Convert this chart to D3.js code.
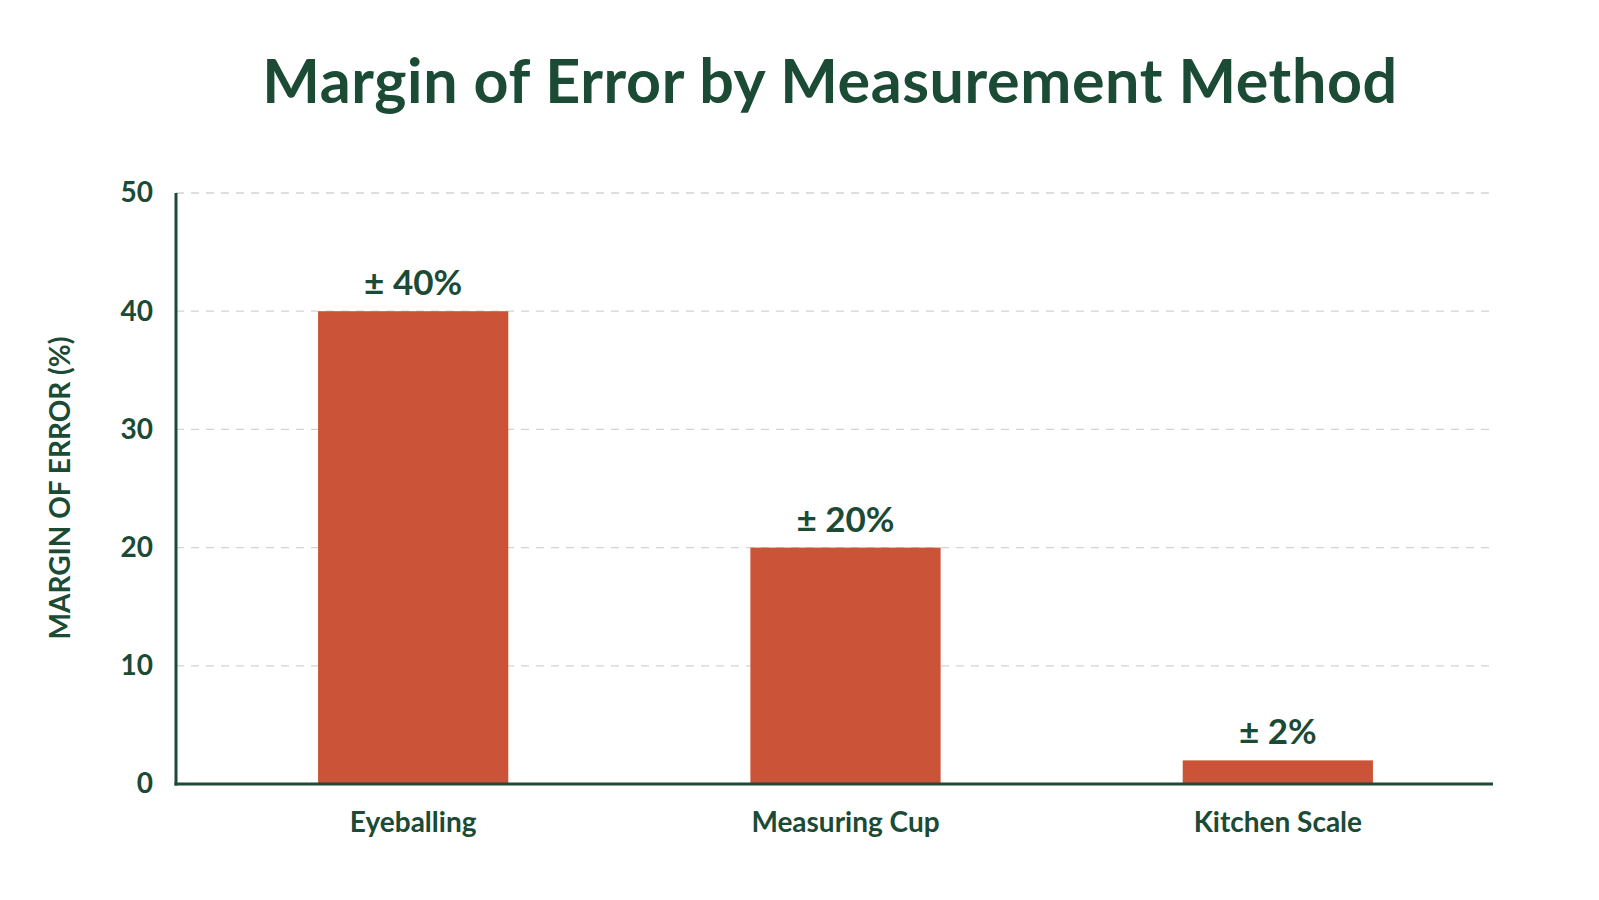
<!DOCTYPE html>
<html>
<head>
<meta charset="utf-8">
<script src="https://cdn.jsdelivr.net/npm/d3@7"></script>
<style>
  body { margin: 0; background: #fff; }
  text { font-family: Lato, "Open Sans", sans-serif; }
</style>
</head>
<body>
<div class="chart"></div>
<script>
var methods = ["Eyeballing", "Measuring Cup", "Kitchen Scale"];
var errorPct = [40, 20, 2];
var valueLabels = ["± 40%", "± 20%", "± 2%"];
var yTicks = [0, 10, 20, 30, 40, 50];

var green = "#1b4a35";

var svg = d3.select(".chart")
  .append("svg")
  .attr("width", 1599)
  .attr("height", 900)
  .style("background-color", "#fff");

// title
svg.append("text")
  .attr("x", 830)
  .attr("y", 103)
  .attr("text-anchor", "middle")
  .style("font-size", "61px")
  .style("font-weight", "bold")
  .style("letter-spacing", "0.6px")
  .style("fill", green)
  .text("Margin of Error by Measurement Method");

var x = d3.scaleBand()
  .domain(methods)
  .range([197, 1494])
  .paddingInner(0.56)
  .paddingOuter(0.28);

var y = d3.scaleLinear()
  .domain([0, 50])
  .range([784, 193]);

// dashed grid
svg.selectAll(".grid")
  .data(yTicks.filter(function (d) { return d > 0; }))
  .enter()
  .append("line")
  .attr("class", "grid")
  .attr("x1", 176)
  .attr("x2", 1492)
  .attr("y1", function (d) { return y(d); })
  .attr("y2", function (d) { return y(d); })
  .style("stroke", "#d4d4d4")
  .style("stroke-width", 1.3)
  .style("stroke-dasharray", "8,7");

// y axis
var yAxis = svg.append("g")
  .attr("transform", "translate(176,0)")
  .call(d3.axisLeft(y).tickValues(yTicks).tickSize(0).tickPadding(23));
yAxis.select(".domain").remove();
yAxis.selectAll("text")
  .style("font-family", "Lato, sans-serif")
  .style("font-size", "28px")
  .style("font-weight", "bold")
  .style("fill", green);

// bars
svg.selectAll(".bar")
  .data(errorPct)
  .enter()
  .append("rect")
  .attr("class", "bar")
  .attr("x", function (d, i) { return x(methods[i]); })
  .attr("width", x.bandwidth())
  .attr("y", function (d) { return y(d); })
  .attr("height", function (d) { return y(0) - y(d); })
  .style("fill", "#cb5438");

// value labels
svg.selectAll(".val")
  .data(errorPct)
  .enter()
  .append("text")
  .attr("class", "val")
  .attr("x", function (d, i) { return x(methods[i]) + x.bandwidth() / 2; })
  .attr("y", function (d) { return y(d) - 16; })
  .attr("text-anchor", "middle")
  .style("font-size", "35px")
  .style("font-weight", "bold")
  .style("fill", green)
  .text(function (d, i) { return valueLabels[i]; });

// axis lines
svg.append("line")
  .attr("x1", 176).attr("x2", 176)
  .attr("y1", y(50)).attr("y2", y(0) + 1.5)
  .style("stroke", green)
  .style("stroke-width", 3);
svg.append("line")
  .attr("x1", 174.5).attr("x2", 1493)
  .attr("y1", y(0)).attr("y2", y(0))
  .style("stroke", green)
  .style("stroke-width", 3);

// category labels
var xAxis = svg.append("g")
  .attr("transform", "translate(0," + y(0) + ")")
  .call(d3.axisBottom(x).tickSize(0).tickPadding(28));
xAxis.select(".domain").remove();
xAxis.selectAll("text")
  .style("font-family", "Lato, sans-serif")
  .style("font-size", "28px")
  .style("font-weight", "bold")
  .style("fill", green);

// y label
svg.append("text")
  .attr("transform", "translate(70,488) rotate(-90)")
  .attr("text-anchor", "middle")
  .style("font-size", "28px")
  .style("font-weight", "bold")
  .style("fill", green)
  .text("MARGIN OF ERROR (%)");
</script>
</body>
</html>
